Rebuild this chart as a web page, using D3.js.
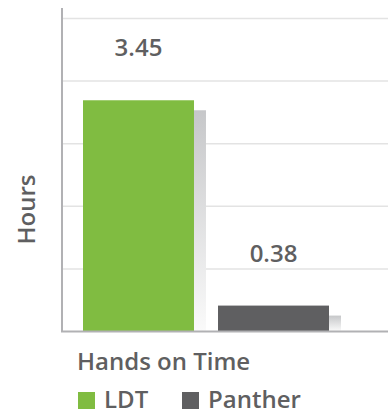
<!DOCTYPE html>
<html>
<head>
<meta charset="utf-8">
<script src="https://cdn.jsdelivr.net/npm/d3@7"></script>
<style>
  html, body { margin: 0; padding: 0; background: #fff; }
  svg { display: block; }
  text { font-family: "Open Sans", sans-serif; font-weight: 600; fill: #5f5f61; }
</style>
</head>
<body>
<svg id="chart" width="388" height="411"></svg>
<script>
// chart data
var series = ["LDT", "Panther"];
var hours = [3.45, 0.38];
var labels = ["3.45", "0.38"];
var colors = ["#80bc41", "#5f5f61"];
var yMax = 4.68;
var gridCount = 5;
var groupTitle = "Hands on Time";
var yTitle = "Hours";

var svg = d3.select("#chart");
var margins = { top: 8, left: 62, bottom: 80 };
var width = +svg.attr("width");
var height = +svg.attr("height");
var baseY = height - margins.bottom;
var fontSize = "24px";

var x = d3.scaleBand()
    .domain(series)
    .range([69.5, 342.5])
    .paddingInner(0.178)
    .paddingOuter(0.1);

var y = d3.scaleLinear()
    .domain([0, yMax])
    .range([baseY, 18]);

// shadow gradient
var defs = svg.append("defs");
var grad = defs.append("linearGradient")
    .attr("id", "shade")
    .attr("x1", 0).attr("y1", 0).attr("x2", 0).attr("y2", 1);
grad.append("stop").attr("offset", "0%").attr("stop-color", "#c6c7c9");
grad.append("stop").attr("offset", "100%").attr("stop-color", "#fafafa");

// grid lines
var gridVals = d3.range(1, gridCount + 1).map(function(i) { return yMax * i / gridCount; });
svg.append("g")
    .attr("transform", `translate(${margins.left},0)`)
    .call(d3.axisLeft(y).tickValues(gridVals).tickSize(-(width - margins.left)).tickFormat(""))
    .call(function(g) {
        g.select(".domain").remove();
        g.selectAll(".tick line").attr("stroke", "#e3e3e3").attr("stroke-width", 1.5);
    });

// shadows behind bars
svg.append("g").selectAll("rect")
    .data(series)
    .enter()
    .append("rect")
    .attr("x", function(d) { return x(d) + 12; })
    .attr("y", function(d, i) { return y(hours[i]) + 10; })
    .attr("width", x.bandwidth())
    .attr("height", function(d, i) { return baseY - y(hours[i]) - 10; })
    .style("fill", "url(#shade)");

// bars
svg.append("g").selectAll("rect")
    .data(series)
    .enter()
    .append("rect")
    .attr("x", function(d) { return x(d); })
    .attr("y", function(d, i) { return y(hours[i]); })
    .attr("width", x.bandwidth())
    .attr("height", function(d, i) { return baseY - y(hours[i]); })
    .style("fill", function(d, i) { return colors[i]; });

// value labels
svg.append("g").selectAll("text")
    .data(series)
    .enter()
    .append("text")
    .attr("x", function(d) { return x(d) + x.bandwidth() / 2; })
    .attr("y", function(d, i) { return y(hours[i]) - 44; })
    .attr("text-anchor", "middle")
    .style("font-size", fontSize)
    .text(function(d, i) { return labels[i]; });

// axes lines
svg.append("line")
    .attr("x1", margins.left).attr("x2", margins.left)
    .attr("y1", margins.top).attr("y2", baseY + 1)
    .attr("stroke", "#b1b1b4").attr("stroke-width", 2);
svg.append("line")
    .attr("x1", margins.left - 1).attr("x2", width)
    .attr("y1", baseY + 0.5).attr("y2", baseY + 0.5)
    .attr("stroke", "#b1b1b4").attr("stroke-width", 2);

// y title
svg.append("text")
    .attr("transform", `translate(35, ${(y.range()[0] + y.range()[1]) / 2 + 35}) rotate(-90)`)
    .attr("text-anchor", "middle")
    .style("font-size", fontSize)
    .text(yTitle);

// group title
svg.append("text")
    .attr("x", 77)
    .attr("y", 370)
    .style("font-size", fontSize)
    .text(groupTitle);

// legend
var legend = svg.append("g").attr("transform", "translate(78,392)");
var legendX = [0, 104];
series.forEach(function(s, i) {
    legend.append("rect")
        .attr("x", legendX[i]).attr("y", 0)
        .attr("width", 17).attr("height", 17)
        .style("fill", colors[i]);
    legend.append("text")
        .attr("x", legendX[i] + 26)
        .attr("y", 16)
        .style("font-size", fontSize)
        .text(s);
});
</script>
</body>
</html>
